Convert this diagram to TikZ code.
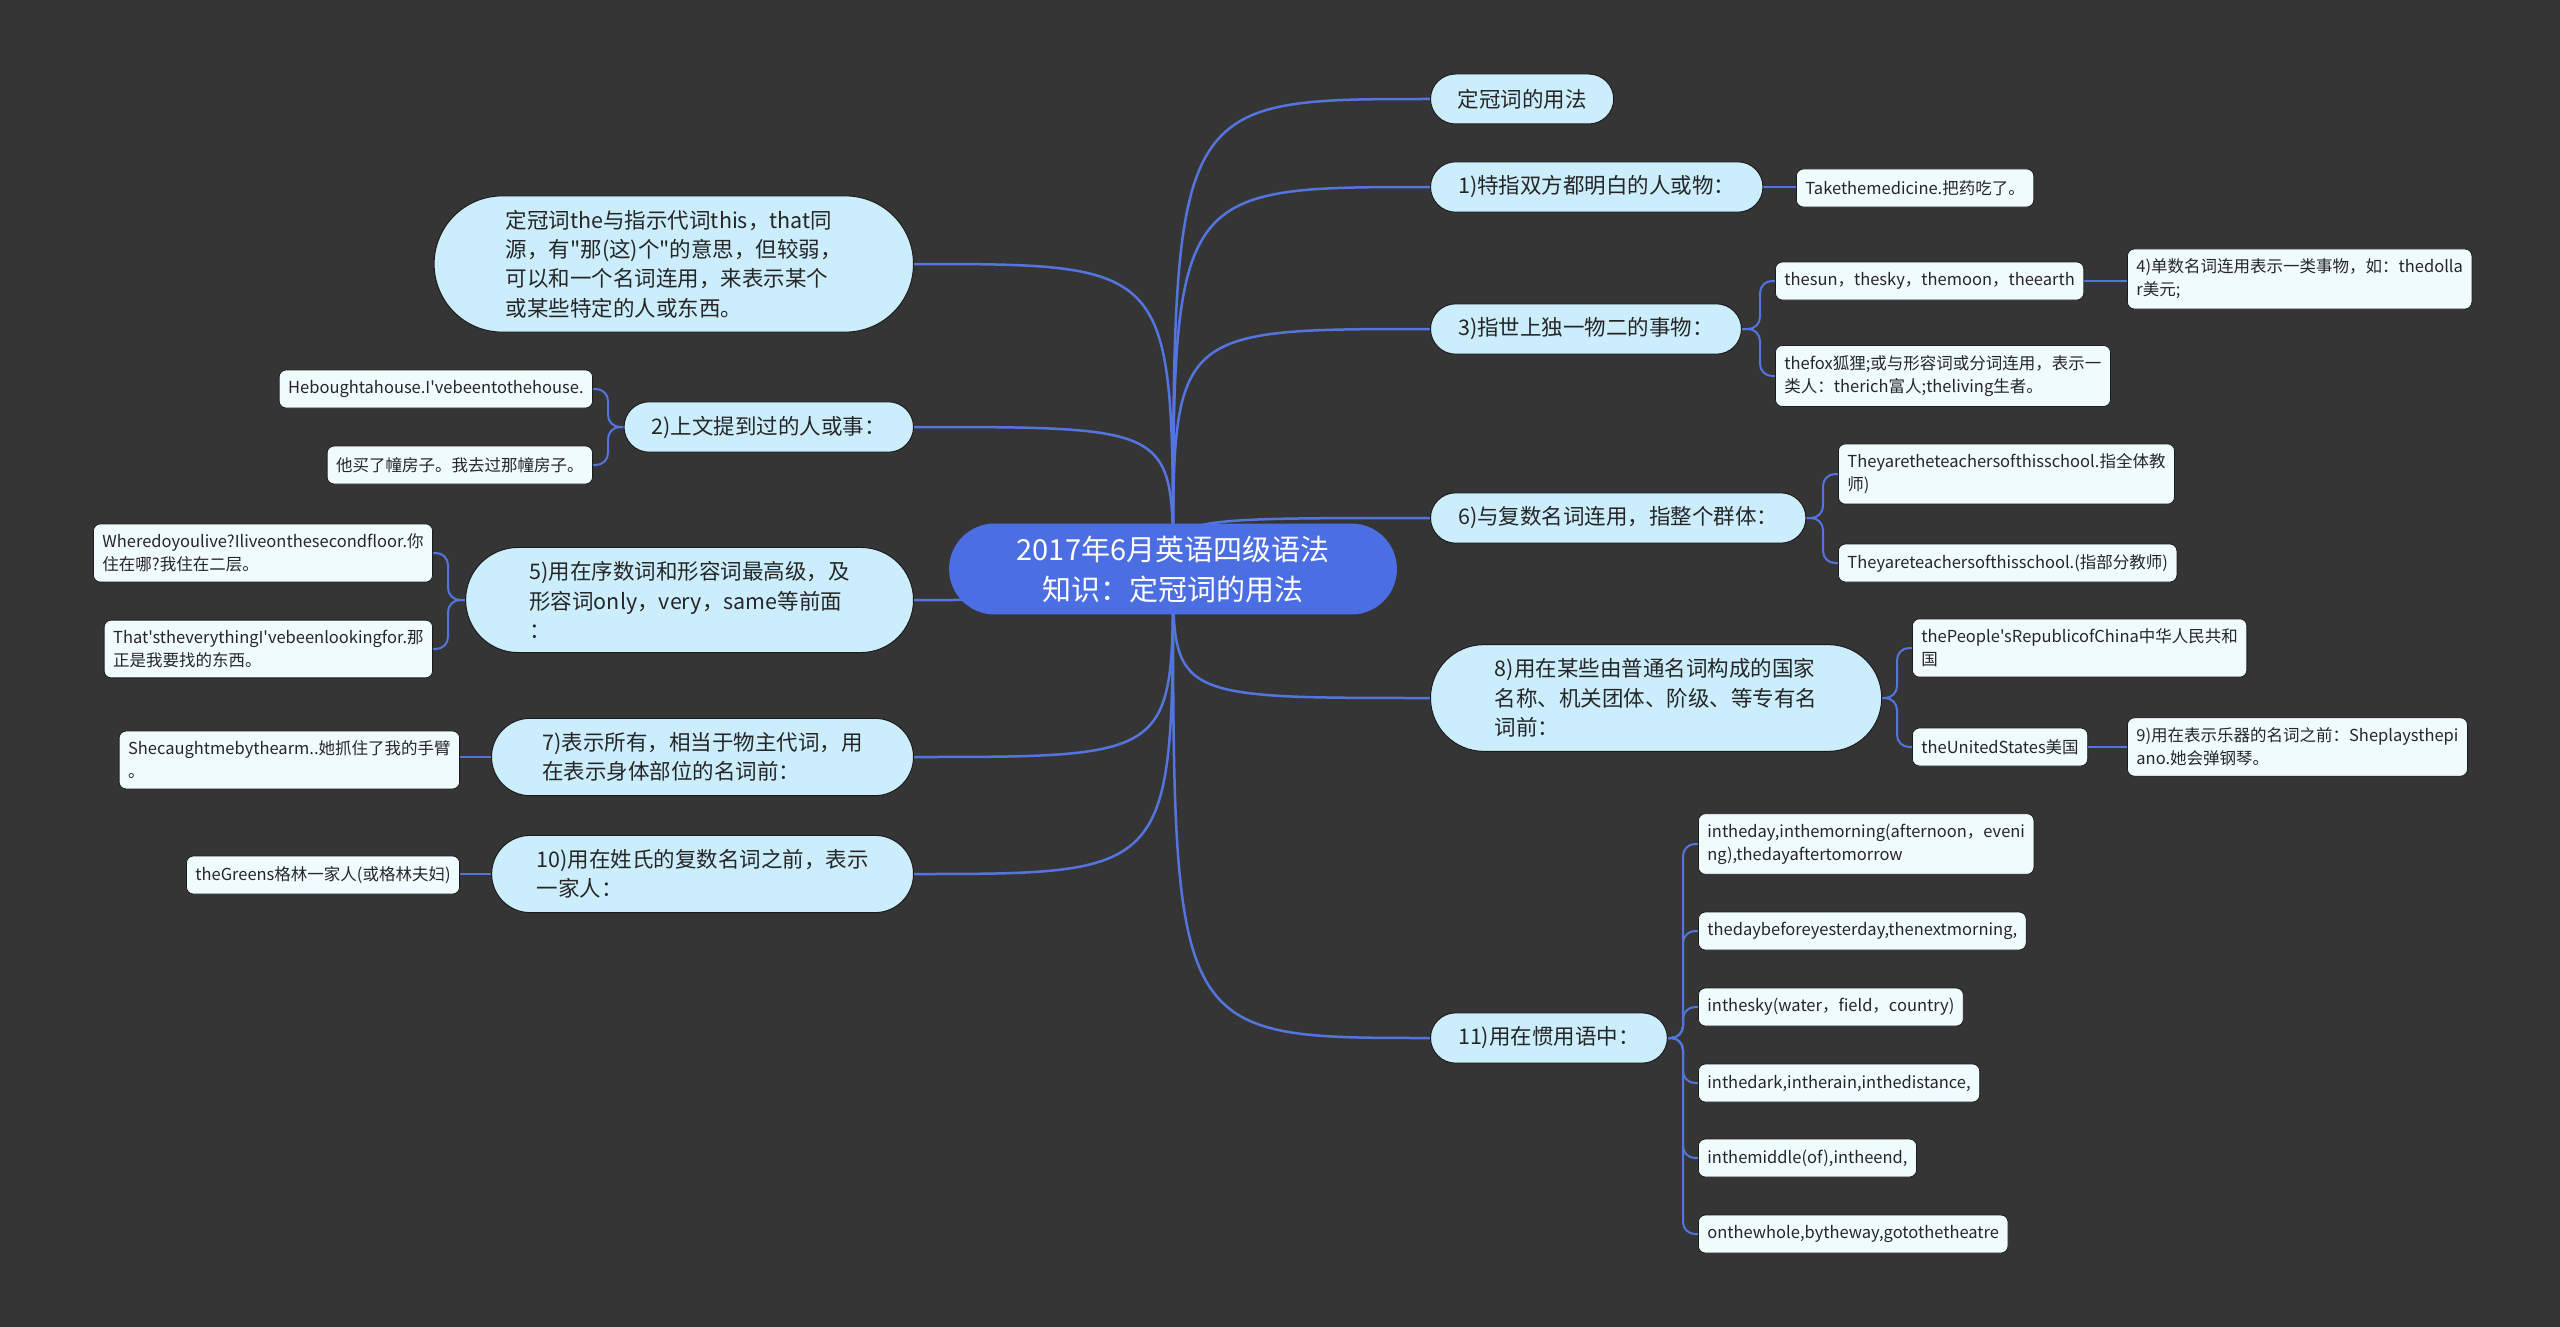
\documentclass[tikz,border=0pt]{standalone}
\usepackage{fontspec}
\newfontfamily\cjk{Noto Sans CJK SC}
\usetikzlibrary{positioning, shapes.misc, backgrounds, calc}
\definecolor{bgdark}{RGB}{54,53,54}
\definecolor{linkblue}{RGB}{84,116,222}
\definecolor{rootblue}{RGB}{75,110,226}
\definecolor{topicfill}{RGB}{204,238,252}
\definecolor{leaffill}{RGB}{240,251,254}
\definecolor{inkdark}{RGB}{38,38,38}
\definecolor{rimdark}{RGB}{28,28,28}

\tikzset{
  root/.style={rounded rectangle, fill=rootblue, text=white, align=center,
    font=\cjk\fontsize{29}{40}\selectfont, inner xsep=53pt, inner ysep=12pt},
  topic/.style={rounded rectangle, fill=topicfill, draw=rimdark, line width=1pt,
    text=inkdark, align=left, font=\cjk\fontsize{21.5}{29.4}\selectfont,
    inner xsep=#1, inner ysep=14pt, minimum height=50pt},
  topic/.default=25pt,
  leaf/.style={rectangle, rounded corners=7pt, fill=leaffill, draw=rimdark,
    line width=0.8pt, text=inkdark, align=left, font=\cjk\fontsize{16.5}{23}\selectfont,
    inner xsep=9pt, inner ysep=10pt, minimum height=38pt},
  link/.style={draw=linkblue, line width=2.5pt},
  twig/.style={draw=linkblue, line width=2pt, rounded corners=12pt},
}

\begin{document}
\begin{tikzpicture}[x=1pt, y=-1pt]
\useasboundingbox (0,0) rectangle (2560,1327);

% centre
\node[root] (root) at (1173,569) {2017年6月英语四级语法\\知识：定冠词的用法};

% right topics
\node[topic, anchor=west] (t0) at (1430,99) {定冠词的用法};
\node[topic, anchor=west] (t1) at (1430,187) {1)特指双方都明白的人或物：};
\node[topic, anchor=west] (t3) at (1430,329) {3)指世上独一物二的事物：};
\node[topic, anchor=west] (t6) at (1430,518) {6)与复数名词连用，指整个群体：};
\node[topic=47pt, anchor=west] (t8) at (1430,698) {8)用在某些由普通名词构成的国家\\名称、机关团体、阶级、等专有名\\词前：};
\node[topic, anchor=west] (t11) at (1430,1038) {11)用在惯用语中：};

% left topics
\node[topic=45pt, anchor=east] (tdef) at (914,264) {定冠词the与指示代词this，that同\\源，有"那(这)个"的意思，但较弱，\\可以和一个名词连用，来表示某个\\或某些特定的人或东西。};
\node[topic, anchor=east] (t2) at (914,427) {2)上文提到过的人或事：};
\node[topic=47pt, anchor=east] (t5) at (914,600) {5)用在序数词和形容词最高级，及\\形容词only，very，same等前面\\：};
\node[topic=42pt, anchor=east] (t7) at (914,757) {7)表示所有，相当于物主代词，用\\在表示身体部位的名词前：};
\node[topic=36pt, anchor=east] (t10) at (914,874) {10)用在姓氏的复数名词之前，表示\\一家人：};

% right leaves
\node[leaf, anchor=west] (take) at (1796,188) {Takethemedicine.把药吃了。};
\node[leaf, anchor=west] (sun) at (1775,281) {thesun，thesky，themoon，theearth};
\node[leaf, anchor=west] (dollar) at (2127,279) {4)单数名词连用表示一类事物，如：thedolla\\r美元;};
\node[leaf, anchor=west] (fox) at (1775,376) {thefox狐狸;或与形容词或分词连用，表示一\\类人：therich富人;theliving生者。};
\node[leaf, anchor=west] (allt) at (1838,474) {Theyaretheteachersofthisschool.指全体教\\师)};
\node[leaf, anchor=west] (somet) at (1838,563) {Theyareteachersofthisschool.(指部分教师)};
\node[leaf, anchor=west] (prc) at (1912,648) {thePeople'sRepublicofChina中华人民共和\\国};
\node[leaf, anchor=west] (usa) at (1912,747) {theUnitedStates美国};
\node[leaf, anchor=west] (piano) at (2127,747) {9)用在表示乐器的名词之前：Sheplaysthepi\\ano.她会弹钢琴。};
\node[leaf, anchor=west] (ida) at (1698,844) {intheday,inthemorning(afternoon，eveni\\ng),thedayaftertomorrow};
\node[leaf, anchor=west] (idb) at (1698,931) {thedaybeforeyesterday,thenextmorning,};
\node[leaf, anchor=west] (idc) at (1698,1007) {inthesky(water，field，country)};
\node[leaf, anchor=west] (idd) at (1698,1083) {inthedark,intherain,inthedistance,};
\node[leaf, anchor=west] (ide) at (1698,1158) {inthemiddle(of),intheend,};
\node[leaf, anchor=west] (idf) at (1698,1234) {onthewhole,bytheway,gotothetheatre};

% left leaves
\node[leaf, anchor=east] (house) at (593,389) {Heboughtahouse.I'vebeentothehouse.};
\node[leaf, anchor=east] (fang) at (593,465) {他买了幢房子。我去过那幢房子。};
\node[leaf, anchor=east] (live) at (433,553) {Wheredoyoulive?Iliveonthesecondfloor.你\\住在哪?我住在二层。};
\node[leaf, anchor=east] (every) at (433,649) {That'stheverythingI'vebeenlookingfor.那\\正是我要找的东西。};
\node[leaf, anchor=east] (arm) at (460,760) {Shecaughtmebythearm..她抓住了我的手臂\\。};
\node[leaf, anchor=east] (green) at (460,875) {theGreens格林一家人(或格林夫妇)};

\begin{scope}[on background layer]
  \fill[bgdark] (0,0) rectangle (2560,1327);
  % centre to topics
  \foreach \t in {t0,t1,t3,t6,t8,t11}
    \draw[link] (root.center) .. controls (root.center |- \t.west) .. (\t.west);
  \foreach \t in {tdef,t2,t5,t7,t10}
    \draw[link] (root.center) .. controls (root.center |- \t.east) .. (\t.east);
  % single leaves
  \draw[twig] (t1.east) -- (t1.east -| take.west);
  \draw[twig] (sun.east) -- (sun.east -| dollar.west);
  \draw[twig] (usa.east) -- (usa.east -| piano.west);
  \draw[twig] (t7.west) -- (t7.west -| arm.east);
  \draw[twig] (t10.west) -- (t10.west -| green.east);
  % forks
  \foreach \k in {sun,fox}
    \draw[twig] (t3.east) -- ($(t3.east -| \k.west)+(-15,0)$) |- (\k.west);
  \foreach \k in {allt,somet}
    \draw[twig] (t6.east) -- ($(t6.east -| \k.west)+(-15,0)$) |- (\k.west);
  \foreach \k in {prc,usa}
    \draw[twig] (t8.east) -- ($(t8.east -| \k.west)+(-15,0)$) |- (\k.west);
  \foreach \k in {ida,idb,idc,idd,ide,idf}
    \draw[twig] (t11.east) -- ($(t11.east -| \k.west)+(-15,0)$) |- (\k.west);
  \foreach \k in {house,fang}
    \draw[twig] (t2.west) -- ($(t2.west -| \k.east)+(15,0)$) |- (\k.east);
  \foreach \k in {live,every}
    \draw[twig] (t5.west) -- ($(t5.west -| \k.east)+(15,0)$) |- (\k.east);
\end{scope}
\end{tikzpicture}
\end{document}
